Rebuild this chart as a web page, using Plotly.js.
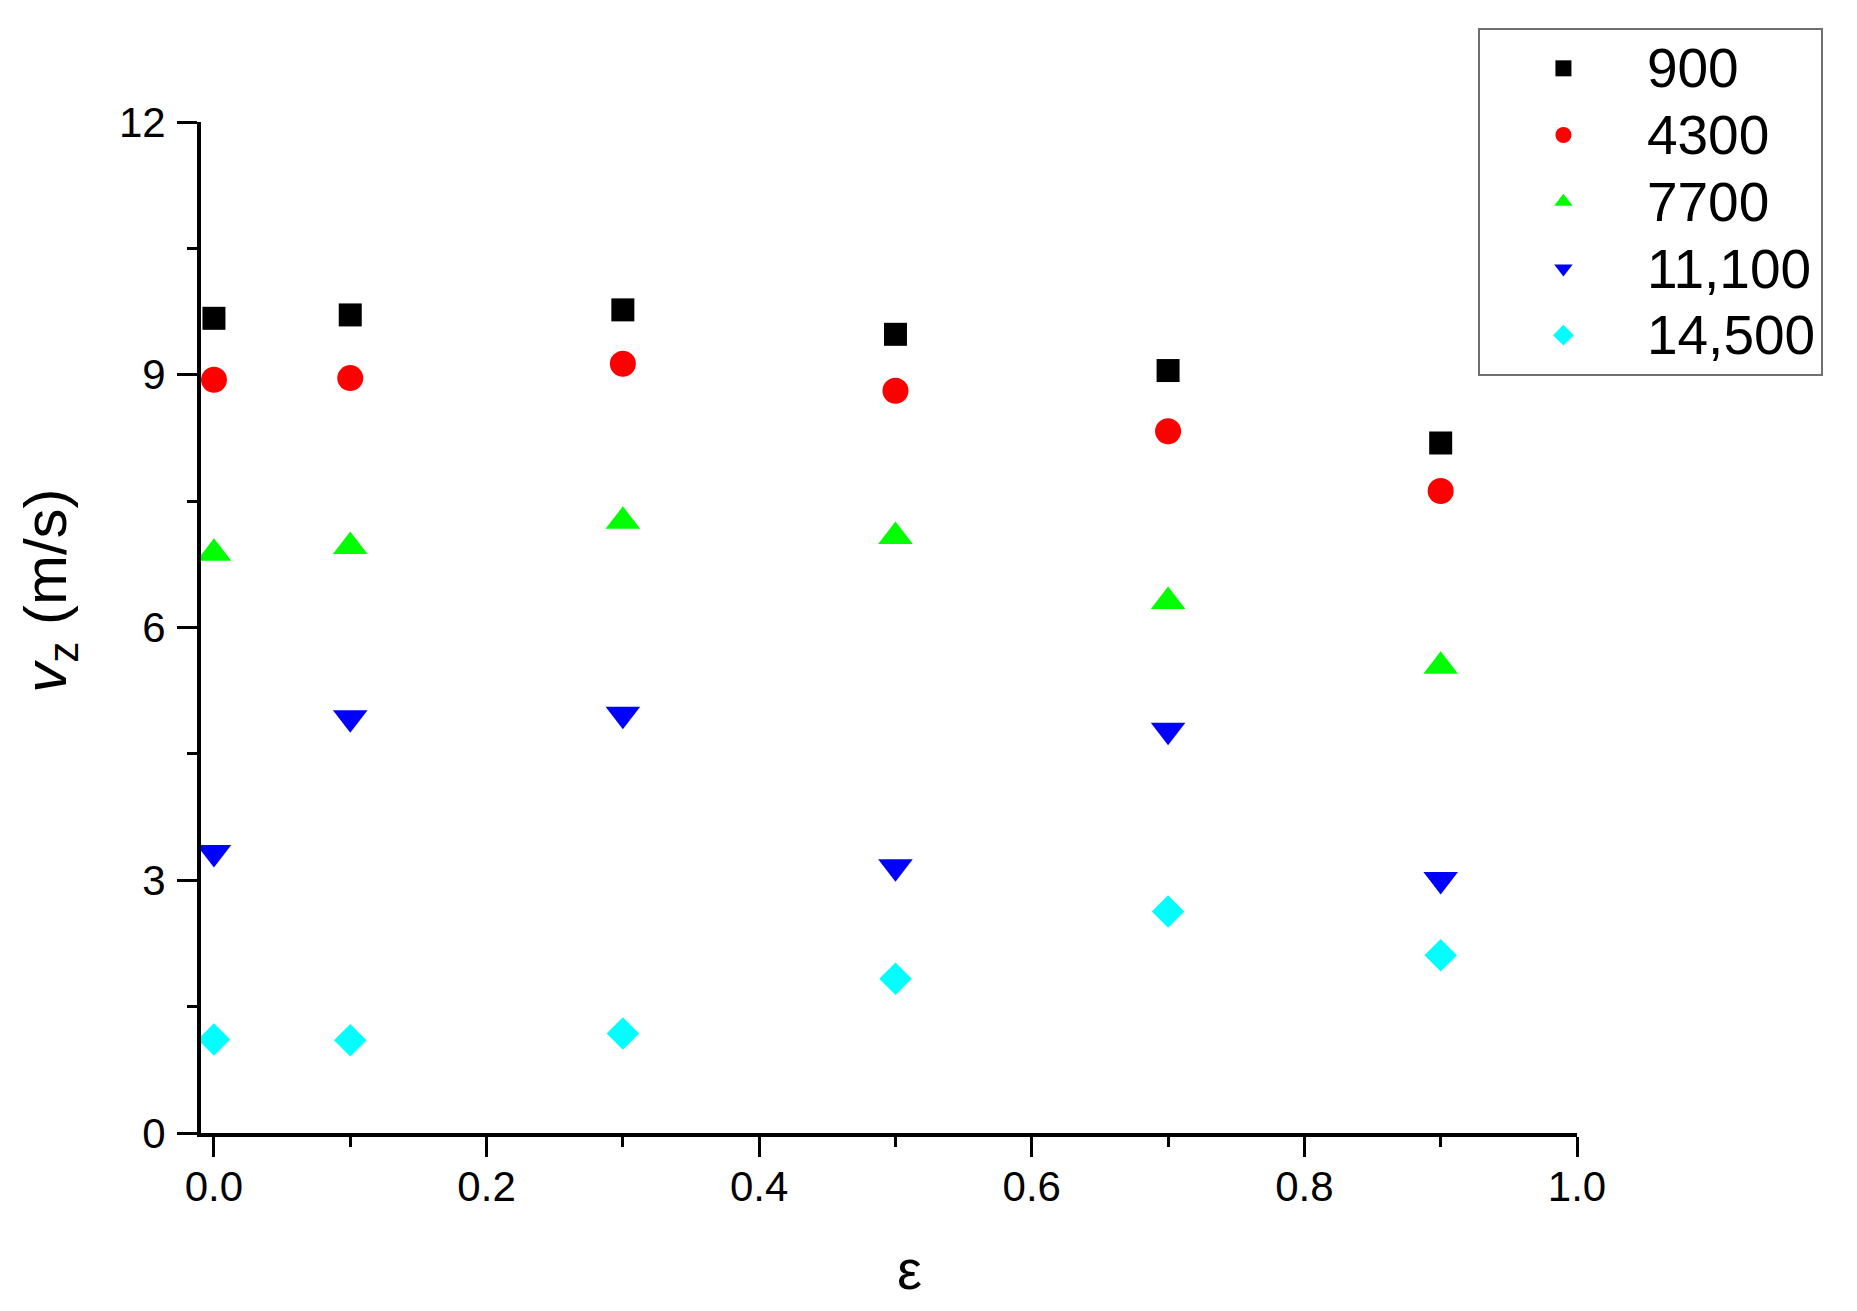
<!DOCTYPE html>
<html>
<head>
<meta charset="utf-8">
<script src="https://cdn.plot.ly/plotly-3.0.1.min.js"></script>
<style>
  body { margin: 0; background: #fff; }
  #plot { width: 1857px; height: 1311px; }
</style>
</head>
<body>
<div id="plot"></div>
<script>
// epsilon values
var eps = [0.0, 0.1, 0.3, 0.5, 0.7, 0.9];

// vz (m/s) for each series
var v900 = [9.67, 9.71, 9.77, 9.48, 9.05, 8.19];
var v4300 = [8.94, 8.96, 9.13, 8.81, 8.33, 7.62];
var v7700 = [6.88, 6.96, 7.26, 7.08, 6.31, 5.54];
var v11100 = [3.33, 4.93, 4.97, 3.16, 4.78, 3.01];
var v14500 = [1.11, 1.10, 1.18, 1.83, 2.63, 2.11];

var names = ["900", "4300", "7700", "11,100", "14,500"];

// bigger legend text while keeping the row spacing tight
function legendName(s) {
  return "<span style='font-size:55px'>" + s + "</span>";
}

var trace1 = {
  x: eps, y: v900, mode: "markers", type: "scatter", name: legendName(names[0]),
  marker: { color: "#000000", symbol: "square", size: 23 }
};
var trace2 = {
  x: eps, y: v4300, mode: "markers", type: "scatter", name: legendName(names[1]),
  marker: { color: "#ff0000", symbol: "circle", size: 26 }
};
var trace3 = {
  x: eps, y: v7700, mode: "markers", type: "scatter", name: legendName(names[2]),
  marker: { color: "#00ff00", symbol: "triangle-up", size: 30 }
};
var trace4 = {
  x: eps, y: v11100, mode: "markers", type: "scatter", name: legendName(names[3]),
  marker: { color: "#0000ff", symbol: "triangle-down", size: 30 }
};
var trace5 = {
  x: eps, y: v14500, mode: "markers", type: "scatter", name: legendName(names[4]),
  marker: { color: "#00ffff", symbol: "diamond", size: 25 }
};

var data = [trace1, trace2, trace3, trace4, trace5];

var layout = {
  width: 1857,
  height: 1311,
  paper_bgcolor: "#ffffff",
  plot_bgcolor: "#ffffff",
  font: { family: "Liberation Sans, Arial, sans-serif", color: "#000", size: 42 },
  margin: { l: 201, r: 280, t: 122, b: 178 },
  showlegend: true,
  legend: {
    x: 0.928, y: 1.093, xanchor: "left", yanchor: "top",
    bordercolor: "#707070", borderwidth: 2, bgcolor: "#fff",
    font: { size: 49, family: "Liberation Sans, Arial, sans-serif" },
    itemwidth: 157
  },
  // axis titles placed as annotations to match their offset positions
  annotations: [
    {
      text: "<i>v</i><sub>z</sub> (m/s)", textangle: -90,
      xref: "paper", yref: "paper", x: -0.11, y: 0.536,
      xanchor: "center", yanchor: "middle", showarrow: false,
      font: { size: 60 }
    },
    {
      text: "ε",
      xref: "paper", yref: "paper", x: 0.515, y: -0.135,
      xanchor: "center", yanchor: "middle", showarrow: false,
      font: { size: 56 }
    }
  ],
  xaxis: {
    range: [-0.0095, 1.0],
    showgrid: false, zeroline: false,
    showline: true, linecolor: "#000", linewidth: 4,
    ticks: "outside", ticklen: 20, tickwidth: 3, tickcolor: "#000",
    tick0: 0, dtick: 0.2, tickformat: ".1f",
    ticklabelstandoff: -6,
    minor: { dtick: 0.1, ticklen: 10, tickwidth: 3, tickcolor: "#000", ticks: "outside" },
    automargin: false
  },
  yaxis: {
    range: [0, 12],
    showgrid: false, zeroline: false,
    showline: true, linecolor: "#000", linewidth: 4,
    ticks: "outside", ticklen: 20, tickwidth: 3, tickcolor: "#000",
    tick0: 0, dtick: 3,
    ticklabelstandoff: 3,
    minor: { dtick: 1.5, ticklen: 10, tickwidth: 3, tickcolor: "#000", ticks: "outside" },
    automargin: false
  }
};

Plotly.newPlot("plot", data, layout, { displayModeBar: false });
</script>
</body>
</html>
